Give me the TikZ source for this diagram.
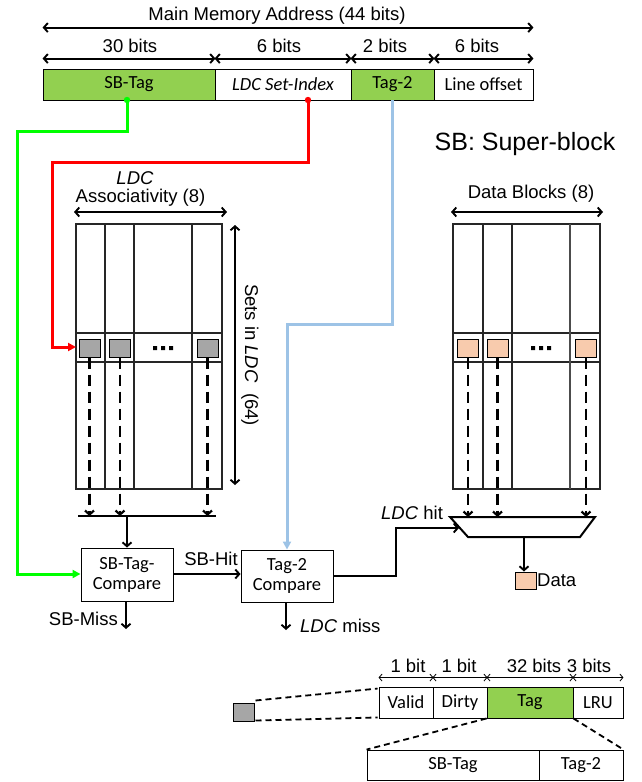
\documentclass[tikz,border=0pt]{standalone}
\usepackage{fontspec}
\setmainfont{Liberation Sans}
\newfontfamily\calib{Carlito}
\usetikzlibrary{arrows.meta,calc}
\definecolor{gfill}{HTML}{92D050}
\definecolor{ofill}{HTML}{F8CBAD}
\definecolor{sqgray}{HTML}{A6A6A6}
\definecolor{lblue}{HTML}{9DC3E6}
\definecolor{mylime}{HTML}{00FF00}
\definecolor{myred}{HTML}{FF0000}
\begin{document}
\begin{tikzpicture}[x=1pt,y=-1pt,
  txt/.style={font=\fontsize{18.5}{21}\selectfont, inner sep=0},
  cb/.style={draw, line width=0.9pt, font=\calib\fontsize{18.5}{20}\selectfont, inner sep=0, align=center},
  dim/.style={line width=1.9pt, {Straight Barb[length=4pt,width=9pt]}-{Straight Barb[length=4pt,width=9pt]}},
  thindim/.style={line width=0.8pt, {Straight Barb[length=3pt,width=7pt]}-{Straight Barb[length=3pt,width=7pt]}},
  arr/.style={line width=1.9pt, -{Straight Barb[length=4pt,width=9pt]}},
  darr/.style={line width=2.2pt, -{Straight Barb[length=4pt,width=9pt]}, dash pattern=on 11pt off 6pt},
  gridln/.style={line width=1.1pt, draw=black!85},
  cwire/.style={line width=3pt, -{Triangle[length=8pt,width=8pt]}},
  sq/.style={draw, line width=1pt, inner sep=0, minimum width=21pt, minimum height=18pt},
  dline/.style={line width=1.8pt, dash pattern=on 6pt off 4pt},
]
\useasboundingbox (0,0) rectangle (641,782);

% ---------- address ----------
\node[txt, anchor=base] (title) at (277,20) {Main Memory Address (44 bits)};
\node[cb, fill=gfill, minimum width=172pt, minimum height=31pt] (sbtag) at (129,84.5) {SB-Tag};
\node[cb, minimum width=136pt, minimum height=31pt] (setidx) at (283,84.5) {\itshape LDC Set-Index};
\node[cb, fill=gfill, minimum width=83pt, minimum height=31pt] (tagtwo) at (392.5,84.5) {Tag-2};
\node[cb, minimum width=99pt, minimum height=31pt] (lineoff) at (483.5,84.5) {Line offset};

\draw[dim] ($(sbtag.north west)+(0,-41)$) -- ($(lineoff.north east)+(0,-41)$);
\draw[dim] ($(sbtag.north west)+(0,-10)$) -- ($(sbtag.north east)+(0,-10)$);
\draw[dim] ($(setidx.north west)+(0,-10)$) -- ($(setidx.north east)+(0,-10)$);
\draw[dim] ($(tagtwo.north west)+(0,-10)$) -- ($(tagtwo.north east)+(0,-10)$);
\draw[dim] ($(lineoff.north west)+(0,-10)$) -- ($(lineoff.north east)+(0,-10)$);
\node[txt, anchor=base] (l30) at (130,52) {30 bits};
\node[txt, anchor=base] (l6a) at (279,52) {6 bits};
\node[txt, anchor=base] (l2) at (385,52) {2 bits};
\node[txt, anchor=base] (l6b) at (477,52) {6 bits};

\node[txt, anchor=base, font=\fontsize{25}{28}\selectfont] (sbnote) at (525,150) {SB: Super-block};

% ---------- LDC tag array ----------
\node[txt, anchor=base] (ldclab) at (135,184) {\itshape LDC};
\node[txt, anchor=base] (assoc) at (140.5,202) {Associativity (8)};
\draw[dim] (74,212) -- (227,212);
\draw[gridln] (76,224) rectangle (222,489);
\draw[gridln] (105,224) -- (105,489) (134,224) -- (134,489) (192,224) -- (192,489)
  (76,333) -- (222,333) (76,362) -- (222,362);
\node[sq, fill=sqgray] (g1) at (89.5,348) {};
\node[sq, fill=sqgray] (g2) at (120,348) {};
\node[sq, fill=sqgray] (g3) at (207.5,348) {};
\fill (153,346) rectangle +(4,4) (161,346) rectangle +(4,4) (169,346) rectangle +(4,4);
\draw[dim] (235,485) -- (235,225);
\node[txt, rotate=-90] (sets) at (250,355) {Sets in \textit{LDC}\ \ (64)};

\coordinate (busL) at (78,516);
\coordinate (busR) at (216,516);
\draw[line width=2.2pt] (busL) -- (busR);
\draw[darr] (g1.south) -- (g1.south |- busL);
\draw[darr] (g2.south) -- (g2.south |- busL);
\draw[darr] (g3.south) -- (g3.south |- busL);

\node[cb, minimum width=92pt, minimum height=53pt] (sbtc) at (127,574.5) {SB-Tag-\\Compare};
\node[cb, minimum width=92pt, minimum height=52pt] (t2c) at (287,576) {Tag-2\\Compare};
\draw[arr] (sbtc.north |- busL) -- (sbtc.north);
\draw[arr] (sbtc.east |- 0,574) -- (t2c.west |- 0,574);
\node[txt, anchor=base] (sbhit) at (211,565) {SB-Hit};
\coordinate (sbmissend) at (126,629);
\draw[arr] (sbtc.south -| sbmissend) -- (sbmissend);
\node[txt, anchor=base east] (sbmiss) at (118,625) {SB-Miss};
\coordinate (ldcmissend) at (286,630);
\draw[arr] (t2c.south -| ldcmissend) -- (ldcmissend);
\node[txt, anchor=base west] (ldcmiss) at (300,632) {\textit{LDC} miss};

% ---------- colored wires ----------
\fill[mylime] (127,100) circle (3.2);
\draw[cwire, draw=mylime] (127,100) -- (127,131) -- (17,131) -- (17,574) -- (sbtc.west |- 0,574);
\fill[myred] (308,100) circle (3.2);
\draw[cwire, draw=myred] (308,100) -- (308,162) -- (52,162) -- (52,347) -- (76,347);
\draw[cwire, draw=lblue] (392,100) -- (392,324) -- (287,324) -- (t2c.north);

% ---------- data array ----------
\node[txt, anchor=base] (dblab) at (531,198) {Data Blocks (8)};
\draw[dim] (451,212) -- (603,212);
\draw[gridln] (453,224) rectangle (600,489);
\draw[gridln] (483,224) -- (483,489) (512,224) -- (512,489)
  (453,333) -- (600,333) (453,362) -- (600,362);
\draw[line width=1.6pt, draw=black!70] (570,224) -- (570,489);
\node[sq, fill=ofill] (o1) at (468,348) {};
\node[sq, fill=ofill] (o2) at (497.5,348) {};
\node[sq, fill=ofill] (o3) at (586,348) {};
\fill (531,346) rectangle +(4,4) (539,346) rectangle +(4,4) (547,346) rectangle +(4,4);

\coordinate (mA) at (450,517);
\coordinate (mB) at (595,517);
\coordinate (mC) at (580,537);
\coordinate (mD) at (468,537);
\draw[line width=2pt] (mA) -- (mB) -- (mC) -- (mD) -- cycle;
\draw[darr] (o1.south) -- (o1.south |- mA);
\draw[darr] (o2.south) -- (o2.south |- mA);
\draw[darr] (o3.south) -- (o3.south |- mA);

\draw[arr] (t2c.east) -- (396,576) -- (396,528) -- (459,528);
\node[txt, anchor=base] (ldchit) at (412,519) {\textit{LDC} hit};
\node[sq, fill=ofill, minimum width=21pt, minimum height=17pt] (data) at (525.5,580.5) {};
\draw[arr] (524,538) -- (524,571.5);
\node[txt, anchor=base west] (datalab) at (537,586) {Data};

% ---------- entry format ----------
\node[sq, fill=sqgray] (gb) at (243.5,712) {};
\node[cb, minimum width=54pt, minimum height=31pt] (valid) at (406,702.5) {Valid};
\node[cb, minimum width=54pt, minimum height=31pt] (dirty) at (460,702.5) {Dirty};
\node[cb, fill=gfill, minimum width=86pt, minimum height=31pt] (etag) at (530,702.5) {Tag};
\node[cb, minimum width=50pt, minimum height=31pt] (lru) at (598,702.5) {LRU};
\draw[dline] ($(gb.north east)+(1,-2)$) -- ($(valid.north west)+(-1,2)$);
\draw[dline] ($(gb.south east)+(1,-1)$) -- ($(valid.south west)+(-1,-1)$);

\draw[thindim] ($(valid.north west)+(0,-9)$) -- ($(valid.north east)+(0,-9)$);
\draw[thindim] ($(dirty.north west)+(0,-9)$) -- ($(dirty.north east)+(0,-9)$);
\draw[thindim] ($(etag.north west)+(0,-9)$) -- ($(etag.north east)+(0,-9)$);
\draw[thindim] ($(lru.north west)+(0,-9)$) -- ($(lru.north east)+(0,-9)$);
\node[txt, anchor=base] (b1) at (408,672) {1 bit};
\node[txt, anchor=base] (b2) at (459,672) {1 bit};
\node[txt, anchor=base] (b3) at (534,672) {32 bits};
\node[txt, anchor=base] (b4) at (589,672) {3 bits};

\node[cb, minimum width=172pt, minimum height=30pt] (lsb) at (453,765) {SB-Tag};
\node[cb, minimum width=84pt, minimum height=30pt] (lt2) at (581,765) {Tag-2};
\draw[dline] (etag.south west) -- (lsb.north west);
\draw[dline] (etag.south east) -- (lt2.north east);
\end{tikzpicture}
\end{document}
